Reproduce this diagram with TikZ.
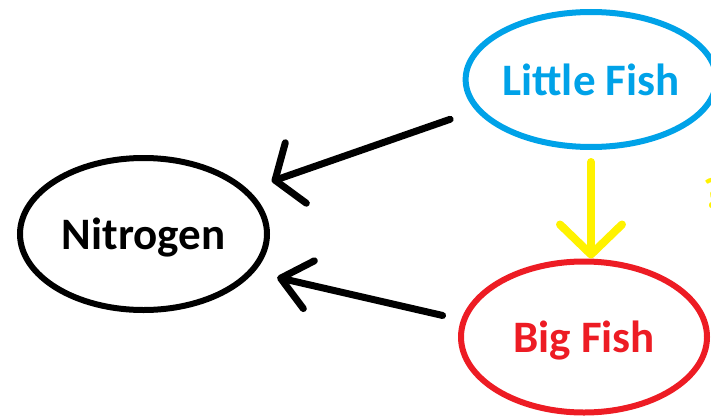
\documentclass[tikz,border=0pt]{standalone}
\usepackage{fontspec}
\setmainfont{Carlito}
\usetikzlibrary{arrows.meta,shapes.geometric}
\definecolor{paintblue}{RGB}{0,162,232}
\definecolor{paintred}{RGB}{237,28,36}
\definecolor{paintyellow}{RGB}{255,242,0}
\begin{document}
\begin{tikzpicture}[x=1pt,y=1pt,
  bubble/.style={draw, ellipse, line width=6pt, inner sep=0pt, text depth=0pt,
    font=\fontsize{45}{50}\selectfont\bfseries},
  link/.style={line width=7pt, line cap=round, line join=round},
]
\useasboundingbox (0,0) rectangle (711,416);

% the three bubbles
\node[bubble, minimum width=247pt, minimum height=152pt] (n) at (143.5,182) {Nitrogen};
\node[bubble, color=paintblue, minimum width=231pt, minimum height=135pt] (lf) at (591,336.5) {Little Fish};
\node[bubble, color=paintred, minimum width=246pt, minimum height=151pt] (bf) at (584,79) {Big Fish};

% connectors
\draw[link, -{Straight Barb[length=22pt,width=64pt,round]},
      shorten <=27pt, shorten >=25pt] (lf.195.7) -- (n.23.9);
\draw[link, -{Straight Barb[length=29pt,width=49pt,round]},
      shorten <=19pt, shorten >=23.5pt] (bf.172.4) -- (n.341.4);
\draw[link, paintyellow, line width=8pt,
      -{Straight Barb[length=30pt,width=62pt,round]}]
      ([yshift=-12pt]lf.south) -- (lf.south |- bf.north);

% mark at the right edge
\node[anchor=base west, inner sep=0pt, text=paintyellow,
      font=\fontsize{44}{50}\selectfont\bfseries] (q) at (703,208) {?};
\end{tikzpicture}
\end{document}
